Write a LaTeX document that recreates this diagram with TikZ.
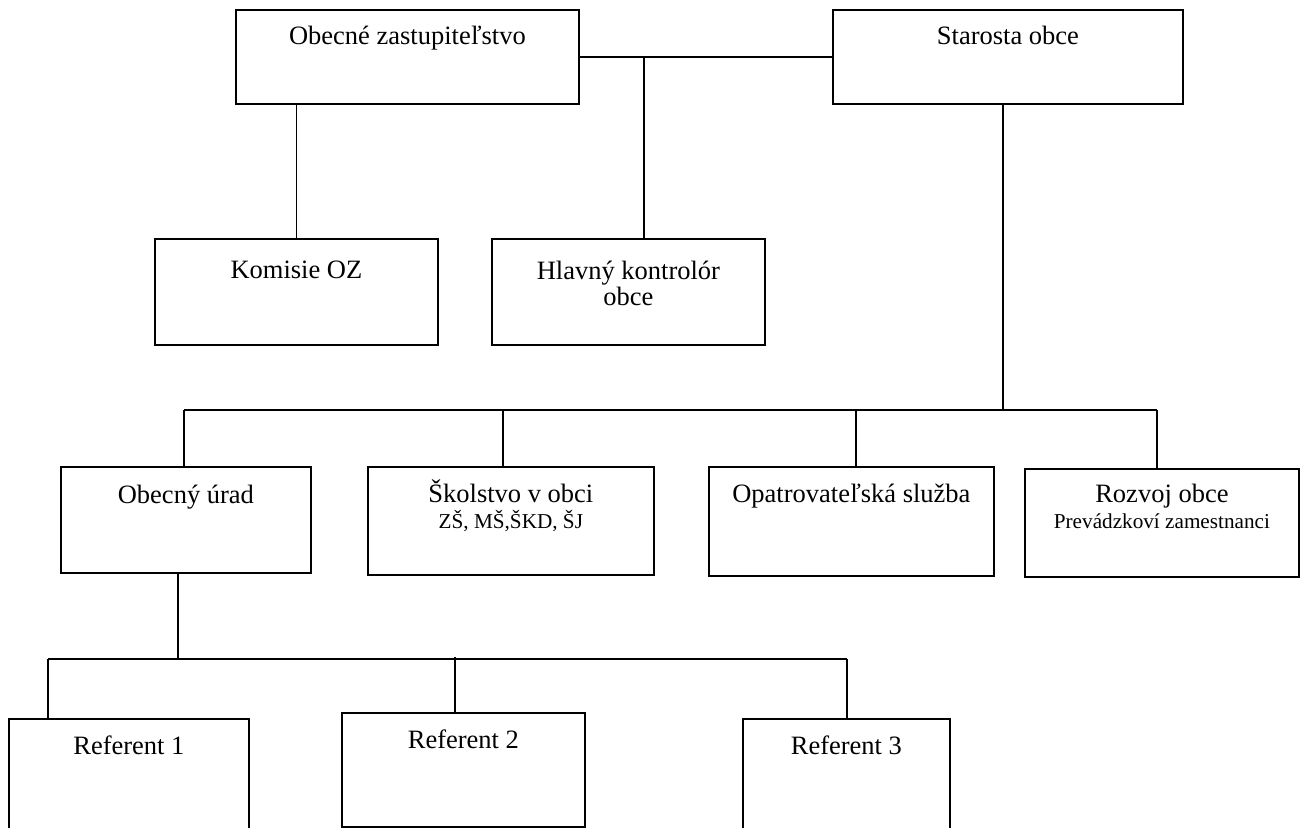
\documentclass[tikz,border=0pt]{standalone}
\usepackage{fontspec}
\setmainfont{Liberation Serif}
\newcommand\mainfs{\fontsize{26.5}{26.5}\selectfont}
\newcommand\subfs{\fontsize{21.2}{21.2}\selectfont}
\begin{document}
\begin{tikzpicture}[x=1pt,y=-1pt,
  box/.style={draw, line width=1.8pt, inner sep=0pt, anchor=north west, align=center, font=\mainfs},
  conn/.style={line width=1.1pt},
  topconn/.style={line width=1.5pt}]
\useasboundingbox (0,0) rectangle (1300,827);
% top row
\node[box, minimum width=343pt, text height=35pt, text depth=59pt] (oz) at (235,9) {Obecné zastupiteľstvo};
\node[box, minimum width=350pt, text height=35pt, text depth=59pt] (st) at (832,9) {Starosta obce};
% second row
\node[box, minimum width=283pt, text height=40pt, text depth=66pt] (ko) at (154,238) {Komisie OZ};
\node[box, minimum width=273pt, text height=67pt, text depth=39pt] (hk) at (491,238) {Hlavný kontrolór\\obce};
% third row
\node[box, minimum width=250pt, text height=37pt, text depth=69pt] (ou) at (60,466) {Obecný úrad};
\node[box, minimum width=286pt, text height=62pt, text depth=46pt] (sk) at (367,466) {Školstvo v obci\\{\subfs ZŠ, MŠ,ŠKD, ŠJ}};
\node[box, minimum width=285pt, text height=36pt, text depth=73pt] (op) at (708,466) {Opatrovateľská služba};
\node[box, minimum width=274pt, text height=60pt, text depth=48pt] (ro) at (1024,468) {Rozvoj obce\\{\subfs Prevádzkoví zamestnanci}};
% fourth row
\node[box, minimum width=240pt, text height=36pt, text depth=86pt] (r1) at (8,718) {Referent 1};
\node[box, minimum width=243pt, text height=36pt, text depth=78pt] (r2) at (341,712) {Referent 2};
\node[box, minimum width=207pt, text height=36pt, text depth=86pt] (r3) at (742,718) {Referent 3};
% connectors top
\draw[topconn] (oz.east) -- (st.west);
\coordinate (j1) at (644,56);
\draw[topconn] (j1) -- (j1 |- hk.north);
\draw[topconn] (ko.north |- oz.south) -- (ko.north);
% starosta branch
\coordinate (j2) at (1003,410);
\coordinate (bl) at (184,410);
\coordinate (b2) at (503,410);
\coordinate (b3) at (856,410);
\coordinate (br) at (1157,410);
\draw[conn] (j2 |- st.south) -- (j2);
\draw[conn] (bl) -- (br);
\draw[conn] (bl) -- (bl |- ou.north);
\draw[conn] (b2) -- (b2 |- sk.north);
\draw[conn] (b3) -- (b3 |- op.north);
\draw[conn] (br) -- (br |- ro.north);
% obecny urad branch
\coordinate (j3) at (178,659);
\coordinate (cl) at (48,659);
\coordinate (cm) at (455,657);
\coordinate (cr) at (847,659);
\draw[conn] (j3 |- ou.south) -- (j3);
\draw[conn] (cl) -- (cr);
\draw[conn] (cl) -- (cl |- r1.north);
\draw[conn] (cm) -- (cm |- r2.north);
\draw[conn] (cr) -- (cr |- r3.north);
\end{tikzpicture}
\end{document}
